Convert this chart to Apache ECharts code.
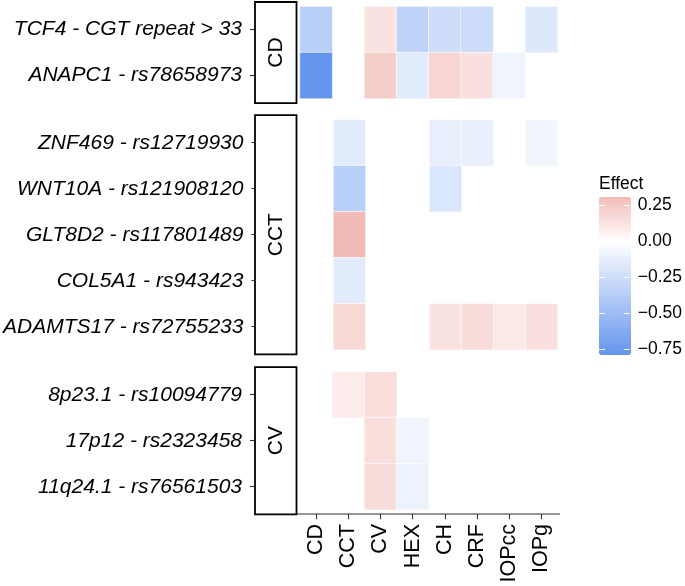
<!DOCTYPE html>
<html>
<head>
<meta charset="utf-8">
<script src="https://cdn.jsdelivr.net/npm/echarts@6/dist/echarts.min.js"></script>
<style>
html,body{margin:0;padding:0;background:#fff;}
#main{width:685px;height:586px;}
</style>
</head>
<body>
<div id="main"></div>
<script>
// ---- data ----
const traits = ['CD', 'CCT', 'CV', 'HEX', 'CH', 'CRF', 'IOPcc', 'IOPg'];
const panelNames = ['CD', 'CCT', 'CV'];
const rowsCD = ['TCF4 - CGT repeat > 33', 'ANAPC1 - rs78658973'];
const rowsCCT = ['ZNF469 - rs12719930', 'WNT10A - rs121908120', 'GLT8D2 - rs117801489', 'COL5A1 - rs943423', 'ADAMTS17 - rs72755233'];
const rowsCV = ['8p23.1 - rs10094779', '17p12 - rs2323458', '11q24.1 - rs76561503'];
// values per row, in order of traits (null = no tile)
const valuesCD = [
  [-0.36, null, 0.13, -0.33, -0.25, -0.26, null, -0.17],
  [-0.79, null, 0.23, -0.15, 0.19, 0.14, -0.08, null]
];
const valuesCCT = [
  [null, -0.15, null, null, -0.12, -0.11, null, -0.07],
  [null, -0.36, null, null, -0.19, null, null, null],
  [null, 0.31, null, null, null, null, null, null],
  [null, -0.15, null, null, null, null, null, null],
  [null, 0.18, null, null, 0.13, 0.16, 0.10, 0.14]
];
const valuesCV = [
  [null, 0.08, 0.15, null, null, null, null, null],
  [null, null, 0.15, -0.08, null, null, null, null],
  [null, null, 0.16, -0.09, null, null, null, null]
];
const legendTicks = [-0.75, -0.5, -0.25, 0, 0.25];
const effectMin = -0.79, effectMax = 0.31;

// ---- colour scale ----
const lowC = [100, 149, 237], midC = [255, 255, 255], highC = [242, 187, 183];
function mix(a, b, t) { return a.map((v, i) => Math.round(v + (b[i] - v) * t)); }
const colorStops = [];
const nSteps = Math.round((effectMax - effectMin) / 0.01);
for (let i = 0; i <= nSteps; i++) {
  const v = effectMin + i * 0.01;
  let c;
  if (v < 0) c = mix(midC, lowC, Math.min(1, -v / -effectMin));
  else c = mix(midC, highC, Math.min(1, v / effectMax));
  colorStops.push('rgb(' + c.join(',') + ')');
}

function toData(values) {
  const out = [];
  values.forEach((row, r) => row.forEach((v, c) => { if (v !== null) out.push([c, r, v]); }));
  return out;
}

const FONT = 'Liberation Sans, Arial, Helvetica, sans-serif';
const gridLeft = 300, gridWidth = 257.6;
const panels = [
  { rows: rowsCD, values: valuesCD, top: 6.6, height: 92 },
  { rows: rowsCCT, values: valuesCCT, top: 119.7, height: 230 },
  { rows: rowsCV, values: valuesCV, top: 371.7, height: 138 }
];
const pad = 4.6;

const grids = panels.map(p => ({ left: gridLeft, top: p.top, width: gridWidth, height: p.height }));
grids.push({ left: 599, top: 197, width: 32, height: 158 });

const xAxes = panels.map((p, i) => ({
  type: 'category', gridIndex: i, data: traits, show: i === 2,
  position: 'bottom', offset: 4.3,
  axisLine: { show: false },
  axisTick: { show: true, alignWithLabel: true, length: 5, lineStyle: { color: '#333', width: 1.1 } },
  axisLabel: { rotate: 90, margin: 10, fontSize: 21.5, color: '#000', fontFamily: FONT },
  splitLine: { show: false }
}));
xAxes.push({ type: 'value', gridIndex: 3, show: false, min: 0, max: 1 });

const yAxes = panels.map((p, i) => ({
  type: 'category', gridIndex: i, data: p.rows, inverse: true,
  position: 'left', offset: 45,
  axisLine: { show: false },
  axisTick: { show: true, alignWithLabel: true, length: 5, lineStyle: { color: '#333', width: 1.1 } },
  axisLabel: { margin: 13, fontSize: 21, fontStyle: 'italic', color: '#000', fontFamily: FONT },
  splitLine: { show: false }
}));
yAxes.push({
  type: 'value', gridIndex: 3, min: effectMin, max: effectMax, position: 'left', z: 10,
  axisLine: { show: false }, splitLine: { show: false },
  axisLabel: { show: false },
  axisTick: { show: true, inside: true, length: 6, lineStyle: { color: '#fff', width: 1 }, customValues: legendTicks }
});
yAxes.push({
  type: 'value', gridIndex: 3, min: effectMin, max: effectMax, position: 'right', z: 10,
  axisLine: { show: false }, splitLine: { show: false },
  axisLabel: {
    show: true, customValues: legendTicks, margin: 8, fontSize: 17.5, color: '#000', fontFamily: FONT,
    formatter: v => (v < 0 ? '\u2212' : '') + Math.abs(v).toFixed(2)
  },
  axisTick: { show: true, inside: true, length: 6, lineStyle: { color: '#fff', width: 1 }, customValues: legendTicks }
});

const series = panels.map((p, i) => ({
  type: 'heatmap', xAxisIndex: i, yAxisIndex: i, data: toData(p.values),
  itemStyle: { borderColor: '#fff', borderWidth: 0.6 },
  emphasis: { disabled: true }
}));
series.push({ type: 'line', xAxisIndex: 3, yAxisIndex: 3, data: [] });

// strips
const graphics = [];
panels.forEach((p, i) => {
  const y0 = p.top - pad, h = p.height + 2 * pad;
  graphics.push({
    type: 'rect', z: 50, shape: { x: 255, y: y0, width: 41.5, height: h },
    style: { fill: '#fff', stroke: '#000', lineWidth: 1.8 }
  });
  graphics.push({
    type: 'text', z: 51, x: 275.75, y: y0 + h / 2, rotation: Math.PI / 2,
    style: { text: panelNames[i], font: '21px ' + FONT, fill: '#000', align: 'center', verticalAlign: 'middle' }
  });
});
graphics.push({
  type: 'line', z: 50, shape: { x1: 296.7, y1: 514, x2: 560, y2: 514 },
  style: { stroke: '#333', lineWidth: 1.1 }
});

const chart = echarts.init(document.getElementById('main'), null, { renderer: 'canvas' });
chart.setOption({
  animation: false,
  backgroundColor: '#fff',
  title: { text: 'Effect', left: 599, top: 175, padding: 0, textStyle: { fontSize: 17.5, fontWeight: 'normal', color: '#000', fontFamily: FONT } },
  grid: grids,
  xAxis: xAxes,
  yAxis: yAxes,
  visualMap: {
    type: 'continuous', min: effectMin, max: effectMax, seriesIndex: [0, 1, 2],
    orient: 'vertical', left: 599, top: 197, itemWidth: 32, itemHeight: 158,
    padding: 0, calculable: false, realtime: false, text: null, showLabel: false,
    inRange: { color: colorStops }, hoverLink: false
  },
  series: series,
  graphic: graphics
});
</script>
</body>
</html>
